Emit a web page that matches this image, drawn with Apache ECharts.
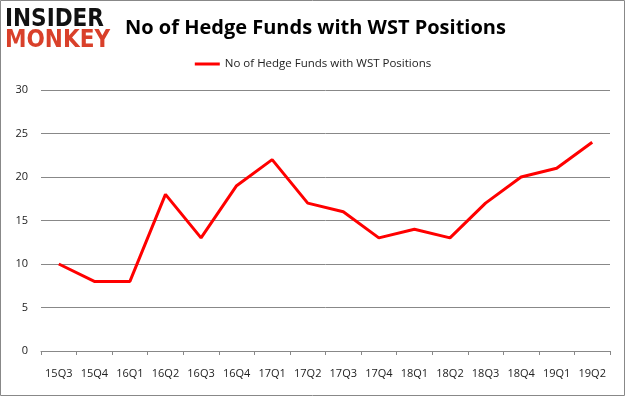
<!DOCTYPE html>
<html>
<head>
<meta charset="utf-8">
<script src="https://cdn.jsdelivr.net/npm/echarts@6/dist/echarts.min.js"></script>
<style>
  html, body { margin: 0; padding: 0; background: #fff; }
  #chart { width: 626px; height: 397px; }
</style>
</head>
<body>
<div id="chart"></div>
<script>
// quarters and hedge fund counts
const quarters = ['15Q3', '15Q4', '16Q1', '16Q2', '16Q3', '16Q4', '17Q1', '17Q2',
  '17Q3', '17Q4', '18Q1', '18Q2', '18Q3', '18Q4', '19Q1', '19Q2'];
const fundCounts = [10, 8, 8, 18, 13, 19, 22, 17, 16, 13, 14, 13, 17, 20, 21, 24];
const seriesName = 'No of Hedge Funds with WST Positions';

const chart = echarts.init(document.getElementById('chart'), null, { renderer: 'canvas' });

const labelFont = { fontFamily: 'Open Sans, sans-serif', fontSize: 11, color: '#222' };

chart.setOption({
  animation: false,
  title: {
    text: seriesName,
    left: 120,
    top: 13,
    textStyle: { fontFamily: 'Open Sans, sans-serif', fontSize: 20, fontWeight: 'bold', color: '#000' }
  },
  legend: {
    top: 53,
    left: 'center',
    icon: 'rect',
    itemWidth: 25,
    itemHeight: 3,
    itemGap: 5,
    textStyle: { ...labelFont, fontSize: 11.5 },
    data: [seriesName]
  },
  grid: { left: 41, right: 16, top: 90, bottom: 46 },
  xAxis: {
    type: 'category',
    data: quarters,
    boundaryGap: true,
    axisLine: { lineStyle: { color: '#888' } },
    axisTick: { show: true, length: 4, lineStyle: { color: '#888' } },
    axisLabel: { ...labelFont, margin: 17, interval: 0 }
  },
  yAxis: {
    type: 'value',
    min: 0,
    max: 30,
    interval: 5,
    axisLine: { show: false },
    axisTick: { show: false },
    axisLabel: { ...labelFont, margin: 13 },
    splitLine: { lineStyle: { color: '#888', width: 1 } }
  },
  series: [{
    name: seriesName,
    type: 'line',
    data: fundCounts,
    symbol: 'none',
    lineStyle: { color: '#ff0000', width: 3 },
    itemStyle: { color: '#ff0000' }
  }],
  graphic: [
    {
      type: 'rect',
      shape: { x: 0.5, y: 0.5, width: 624, height: 395 },
      style: { fill: 'none', stroke: '#888', lineWidth: 1 },
      silent: true
    },
    {
      type: 'text',
      left: 5,
      top: 8,
      style: { text: 'INSIDER', font: 'bold 24px "DejaVu Sans Condensed", "DejaVu Sans", sans-serif', fill: '#111' }
    },
    {
      type: 'text',
      left: 5,
      top: 29,
      style: { text: 'MONKEY', font: 'bold 24px "DejaVu Sans Condensed", "DejaVu Sans", sans-serif', fill: '#d9402a' }
    }
  ]
});
</script>
</body>
</html>
